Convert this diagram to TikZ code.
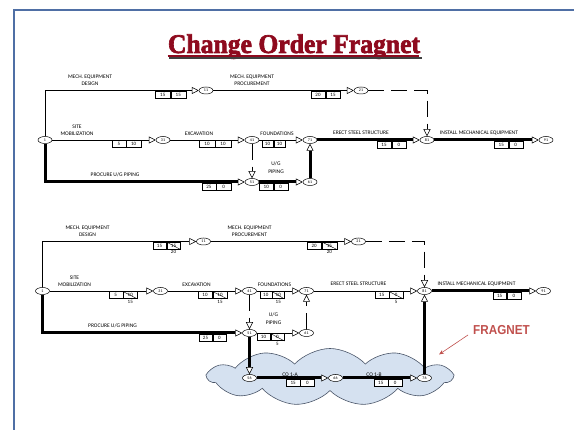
\documentclass[tikz,border=0pt]{standalone}
\usepackage{fontspec}
\setmainfont{Carlito}
\newfontfamily\titlefont[BoldFeatures={FakeBold=2.5}]{Liberation Serif}
\newfontfamily\fragfont{Liberation Sans}
\usetikzlibrary{arrows.meta,shapes.geometric,shapes.symbols,calc}
\definecolor{framec}{HTML}{4F6FA5}
\definecolor{titlec}{HTML}{8E0A1E}
\definecolor{fragc}{HTML}{C0504D}
\definecolor{cloudfill}{HTML}{D5E1F0}
\definecolor{cloudline}{HTML}{4A5568}
\tikzset{
  ev/.style={ellipse, draw, fill=white, inner sep=0pt, minimum width=14pt, minimum height=7pt, font=\fontsize{4}{4}\selectfont, line width=0.5pt},
  act/.style={line width=0.6pt},
  crit/.style={line width=3pt},
  dep/.style={line width=0.7pt, dash pattern=on 16pt off 7pt},
  tip/.style={-{Triangle[length=7pt 0 0,width=7pt 0 0,line width=0.5pt 0 1,fill=white]}},
  lbl/.style={font=\fontsize{5.5}{7.5}\selectfont, align=center, inner sep=0pt},
  cell/.style={draw, fill=white, line width=0.5pt, minimum height=7pt, inner sep=0pt, font=\fontsize{5}{5}\selectfont, anchor=north west},
  newnum/.style={font=\fontsize{5}{5}\selectfont, inner sep=0.8pt, anchor=north},
}
\newcommand\durbox[6]{%
  \pgfmathsetmacro\bxw{(#3-#2)/2}%
  \node[cell, minimum width=\bxw pt] (#1a) at (#2,#4) {#5};
  \node[cell, minimum width=\bxw pt] (#1b) at (#1a.north east) {#6};
}
\newcommand\durboxx[7]{%
  \durbox{#1}{#2}{#3}{#4}{#5}{#6}
  \draw[line width=0.4pt] (#1b.north west) -- (#1b.south east);
  \node[newnum] (#1c) at (#1b.south) {#7};
}
\begin{document}
\begin{tikzpicture}[x=1pt,y=-1pt]
\useasboundingbox (0,0) rectangle (574,430);
\draw[framec, line width=1.5pt] (14,432) -- (14,10) -- (576,10);

% title
\node[font=\titlefont\bfseries\fontsize{27}{27}\selectfont, text=titlec, xscale=0.95, anchor=base, inner sep=0pt] (title) at (294,53) {Change Order Fragnet};
\draw[black!75, line width=2pt] ($(title.base west)+(1.5,5)$) -- ($(title.base east)+(1.5,5)$);
\draw[titlec, line width=2pt] ($(title.base west)+(0,3.5)$) -- ($(title.base east)+(-1.5,3.5)$);

% ================= top diagram =================
\node[ev] (a1) at (45,140) {1};
\node[ev] (a11) at (206,90.5) {11};
\node[ev] (a21) at (361,90.5) {21};
\node[ev] (a31) at (163,140) {31};
\node[ev] (a41) at (252,140) {41};
\node[ev] (a71) at (310,140) {71};
\node[ev] (a81) at (427,140) {81};
\node[ev] (a91) at (546,140) {91};
\node[ev] (a51) at (252,182) {51};
\node[ev] (a61) at (310,182) {61};

\draw[act,tip] (a1.north) |- (a11.west);
\draw[act,tip] (a11) -- (a21);
\draw[dep,tip] (a21.east) -| (a81.north);
\draw[act,tip] (a1) -- (a31);
\draw[act,tip] (a31) -- (a41);
\draw[act,tip] (a41) -- (a71);
\draw[crit,tip] (a71) -- (a81);
\draw[crit,tip] (a81) -- (a91);
\draw[crit,tip] (a1.south) |- (a51.west);
\draw[dep,tip] (a41) -- (a51);
\draw[crit,tip] (a51) -- (a61);
\draw[crit,tip] (a61) -- (a71);

\durbox{aBd}{155}{185}{91}{15}{15}
\durbox{aBp}{310.5}{339.5}{91}{20}{15}
\durbox{aBs}{111.5}{140}{140.5}{5}{10}
\durbox{aBe}{199}{230}{140.5}{10}{10}
\durbox{aBf}{261.5}{284.5}{140.5}{10}{10}
\durbox{aBr}{376.5}{405.5}{141.5}{15}{0}
\durbox{aBi}{494}{522}{141.5}{15}{0}
\durbox{aBu}{201.5}{230}{183.5}{25}{0}
\durbox{aBg}{259}{287}{183.5}{10}{0}

\node[lbl] (aLd) at (90,80) {MECH. EQUIPMENT\\DESIGN};
\node[lbl] (aLp) at (252,80) {MECH. EQUIPMENT\\PROCUREMENT};
\node[lbl] (aLs) at (77,130) {SITE\\MOBILIZATION};
\node[lbl] (aLe) at (199,133.5) {EXCAVATION};
\node[lbl] (aLf) at (277,134) {FOUNDATIONS};
\node[lbl] (aLr) at (361,133) {ERECT STEEL STRUCTURE};
\node[lbl] (aLi) at (479,133) {INSTALL MECHANICAL EQUIPMENT};
\node[lbl] (aLu) at (115,175) {PROCURE U/G PIPING};
\node[lbl] (aLg) at (276,167.5) {U/G\\PIPING};

% ================= bottom diagram =================
\begin{scope}[shift={(-2.5,151)}]
\node[cloud, cloud puffs=11, cloud puff arc=95, cloud ignores aspect, draw=cloudline, fill=cloudfill, minimum width=244pt, minimum height=57pt, inner sep=0pt, line width=0.6pt] (cloud) at (332.5,226) {};

\node[ev] (b1) at (45,140) {1};
\node[ev] (b11) at (206,90.5) {11};
\node[ev] (b21) at (361,90.5) {21};
\node[ev] (b31) at (163,140) {31};
\node[ev] (b41) at (252,140) {41};
\node[ev] (b71) at (309,140) {71};
\node[ev] (b81) at (427,140) {81};
\node[ev] (b91) at (546,140) {91};
\node[ev] (b51) at (252,182) {51};
\node[ev] (b61) at (309,182) {61};
\node[ev] (b56) at (252,227) {56};
\node[ev] (b66) at (338,227) {66};
\node[ev] (b76) at (427,227) {76};

\draw[act,tip] (b1.north) |- (b11.west);
\draw[act,tip] (b11) -- (b21);
\draw[dep,tip] (b21.east) -| (b81.north);
\draw[act,tip] (b1) -- (b31);
\draw[act,tip] (b31) -- (b41);
\draw[act,tip] (b41) -- (b71);
\draw[act,tip] (b71) -- (b81);
\draw[crit,tip] (b81) -- (b91);
\draw[crit,tip] (b1.south) |- (b51.west);
\draw[dep,tip] (b41) -- (b51);
\draw[act,tip] (b51) -- (b61);
\draw[dep,tip] (b61) -- (b71);
\draw[crit,tip] (b51) -- (b56);
\draw[crit,tip] (b56) -- (b66);
\draw[crit,tip] (b66) -- (b76);
\draw[crit,tip] (b76) -- (b81);

\durboxx{bBd}{155}{182}{91}{15}{15}{20}
\durboxx{bBp}{309}{338.5}{91}{20}{15}{20}
\durboxx{bBs}{111}{139}{140.5}{5}{10}{15}
\durboxx{bBe}{200}{229}{140.5}{10}{10}{15}
\durboxx{bBf}{262}{286}{140.5}{10}{10}{15}
\durboxx{bBr}{377}{405}{140.5}{15}{0}{5}
\durbox{bBi}{495}{522.5}{141.5}{15}{0}
\durbox{bBu}{201}{228}{183.5}{25}{0}
\durboxx{bBg}{259}{286}{182.5}{10}{0}{5}
\durbox{bBa}{288.5}{316}{228.5}{15}{0}
\durbox{bBb}{376}{404}{228.5}{15}{0}

\node[lbl] (bLd) at (90,80) {MECH. EQUIPMENT\\DESIGN};
\node[lbl] (bLp) at (252,80) {MECH. EQUIPMENT\\PROCUREMENT};
\node[lbl] (bLs) at (77,130) {SITE\\MOBILIZATION};
\node[lbl] (bLe) at (199,133.5) {EXCAVATION};
\node[lbl] (bLf) at (277,134) {FOUNDATIONS};
\node[lbl] (bLr) at (361,133) {ERECT STEEL STRUCTURE};
\node[lbl] (bLi) at (479,133) {INSTALL MECHANICAL EQUIPMENT};
\node[lbl] (bLu) at (115,175) {PROCURE U/G PIPING};
\node[lbl] (bLg) at (276,167.5) {U/G\\PIPING};
\node[lbl] (bLa) at (292.5,223.5) {CO 1-A};
\node[lbl] (bLb) at (376.5,223.5) {CO 1-B};
\end{scope}

% fragnet label
\node[font=\fragfont\bfseries\fontsize{13}{13}\selectfont, text=fragc, xscale=0.9, inner sep=0pt] (frag) at (501.5,330) {FRAGNET};
\coordinate (fragstart) at (468,335);
\coordinate (fragend) at (439,354.5);
\draw[fragc, line width=0.6pt, -{Stealth[length=5pt,width=4pt]}] (fragstart) -- (fragend);
\end{tikzpicture}
\end{document}
